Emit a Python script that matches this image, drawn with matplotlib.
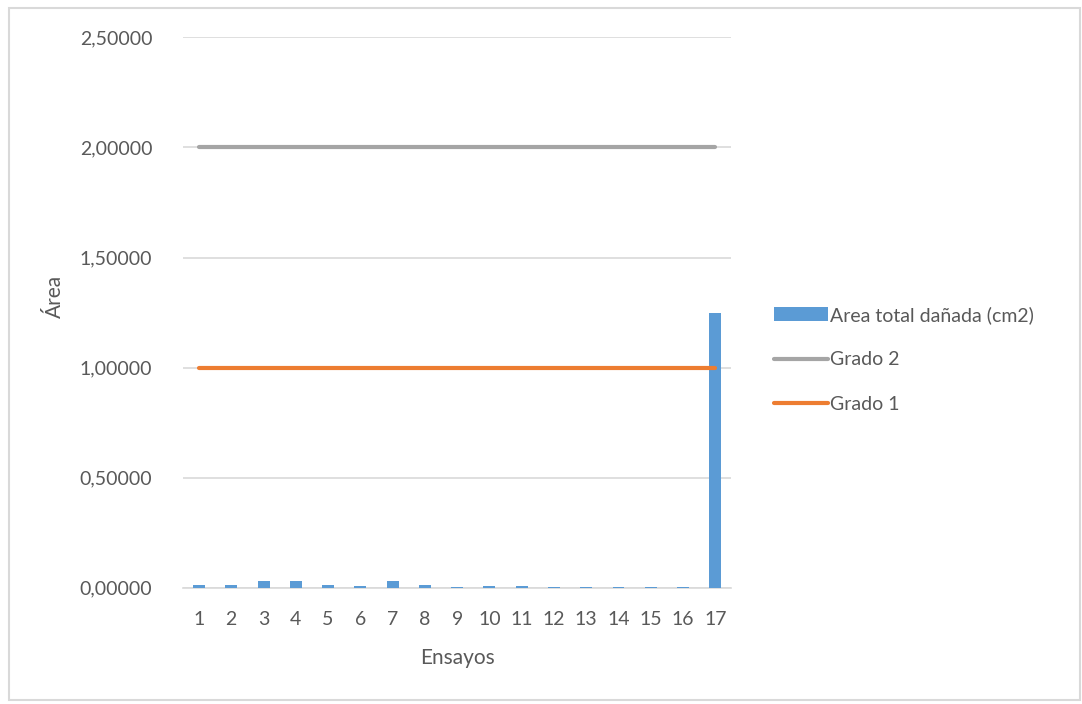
import matplotlib.pyplot as plt
from matplotlib.patches import Rectangle
from matplotlib.ticker import FuncFormatter

plt.rcParams['font.family'] = ['Lato', 'DejaVu Sans']

ensayos = list(range(1, 18))
area_danada = [0.015, 0.015, 0.03, 0.03, 0.015, 0.0075, 0.03, 0.015, 0.002,
               0.0075, 0.0075, 0.002, 0.002, 0.002, 0.002, 0.002, 1.25]
grado_2 = [2.0] * 17
grado_1 = [1.0] * 17
y_ticks = [0, 0.5, 1.0, 1.5, 2.0, 2.5]

text_color = '#595959'

fig = plt.figure(figsize=(10.82, 7.04), dpi=100)
fig.patches.append(Rectangle((0.008, 0.006), 0.99, 0.982, transform=fig.transFigure,
                             fill=False, edgecolor='#D9D9D9', linewidth=1.5))
ax = fig.add_axes([0.169, 0.165, 0.507, 0.782])

bars = ax.bar(ensayos, area_danada, width=0.37, color='#5B9BD5',
              label='Area total dañada (cm2)', zorder=3)
l2, = ax.plot(ensayos, grado_2, color='#A5A5A5', linewidth=3, solid_capstyle='round',
              label='Grado 2', zorder=4)
l1, = ax.plot(ensayos, grado_1, color='#ED7D31', linewidth=3, solid_capstyle='round',
              label='Grado 1', zorder=4)

ax.set_xlim(0.5, 17.5)
ax.set_ylim(0, 2.5)
ax.set_xticks(ensayos)
ax.set_yticks(y_ticks)
ax.yaxis.set_major_formatter(FuncFormatter(lambda v, p: f'{v:.5f}'.replace('.', ',')))
ax.grid(axis='y', color='#D9D9D9', linewidth=1.2, zorder=0)
for s in ['top', 'right', 'left']:
    ax.spines[s].set_visible(False)
ax.spines['bottom'].set_color('#D9D9D9')
ax.spines['bottom'].set_linewidth(1.2)
ax.tick_params(length=0, labelsize=14, labelcolor=text_color)
ax.tick_params(axis='y', pad=22)
ax.tick_params(axis='x', pad=17)

ax.set_xlabel('Ensayos', fontsize=15, color=text_color, labelpad=14)
ax.set_ylabel('Área', fontsize=15, color=text_color)
ax.yaxis.set_label_coords(-0.215, 0.53)

ax.legend([bars, l2, l1], ['Area total dañada (cm2)', 'Grado 2', 'Grado 1'],
          loc='center left', bbox_to_anchor=(1.045, 0.415), frameon=False,
          fontsize=14, labelcolor=text_color, handlelength=2.8,
          handletextpad=0.1, labelspacing=1.4)

fig.savefig('out.png', dpi=100)
